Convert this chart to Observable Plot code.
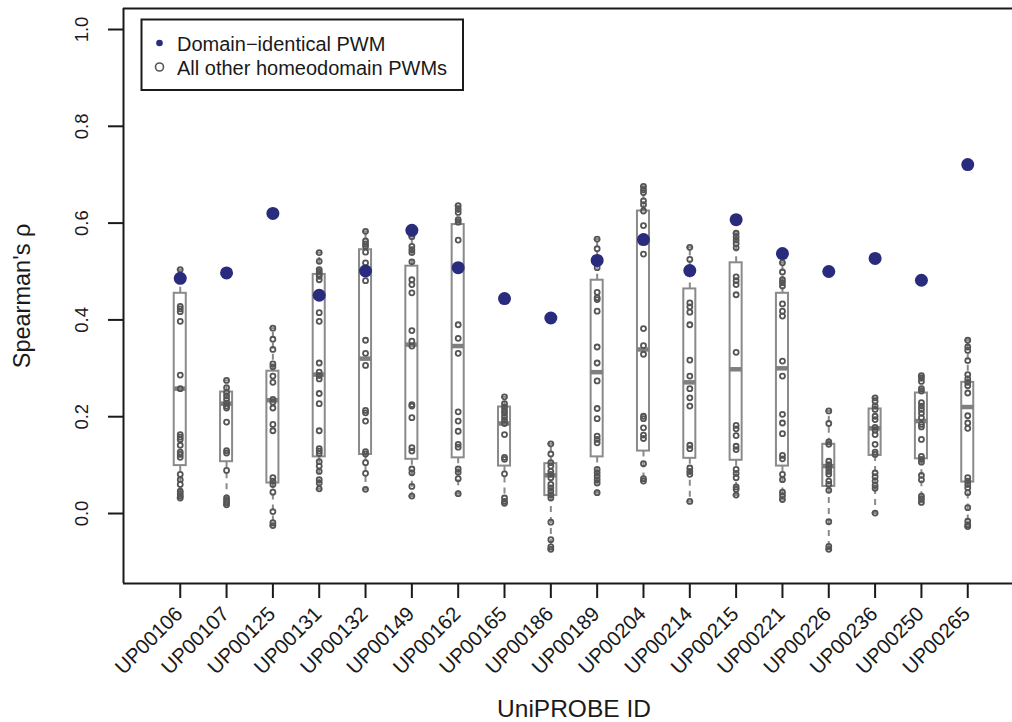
<!DOCTYPE html>
<html>
<head>
<meta charset="utf-8">
<script src="https://cdn.jsdelivr.net/npm/d3@7"></script>
<script src="https://cdn.jsdelivr.net/npm/@observablehq/plot@0.6"></script>
<style>
  html, body { margin: 0; padding: 0; background: #fff; }
  #chart { position: relative; width: 1012px; height: 722px; }
</style>
</head>
<body>
<div id="chart"></div>
<script>
// ---- data ----
const ids = ["UP00106","UP00107","UP00125","UP00131","UP00132","UP00149","UP00162","UP00165","UP00186",
             "UP00189","UP00204","UP00214","UP00215","UP00221","UP00226","UP00236","UP00250","UP00265"];

const domainIdentical = [0.486,0.497,0.620,0.451,0.501,0.585,0.508,0.444,0.404,
                         0.523,0.566,0.502,0.607,0.537,0.500,0.527,0.482,0.721];

const boxQ1  = [0.099,0.107,0.063,0.117,0.122,0.112,0.115,0.098,0.037,0.117,0.129,0.114,0.110,0.098,0.056,0.120,0.113,0.065];
const boxMed = [0.258,0.227,0.234,0.287,0.320,0.349,0.346,0.186,0.079,0.292,0.339,0.271,0.298,0.300,0.098,0.176,0.191,0.220];
const boxQ3  = [0.455,0.251,0.294,0.494,0.545,0.511,0.597,0.220,0.103,0.482,0.625,0.464,0.518,0.455,0.143,0.216,0.249,0.271];
const whiskLo = [0.032,0.018,-0.025,0.051,0.050,0.036,0.041,0.021,-0.074,0.043,0.067,0.025,0.038,0.029,-0.074,0.001,0.023,-0.027];
const whiskHi = [0.504,0.275,0.383,0.539,0.583,0.572,0.636,0.241,0.144,0.567,0.676,0.550,0.579,0.518,0.212,0.239,0.285,0.358];

const otherPWMs = [
  [0.504,0.428,0.423,0.417,0.397,0.286,0.258,0.163,0.158,0.153,0.141,0.127,0.122,0.116,0.081,0.070,0.060,0.046,0.041,0.036,0.032],
  [0.275,0.260,0.250,0.243,0.236,0.228,0.222,0.218,0.189,0.130,0.125,0.089,0.032,0.027,0.022,0.018],
  [0.383,0.360,0.339,0.309,0.303,0.284,0.271,0.236,0.230,0.218,0.184,0.171,0.074,0.067,0.060,0.044,0.004,-0.019,-0.025],
  [0.539,0.521,0.504,0.499,0.494,0.490,0.483,0.415,0.397,0.311,0.292,0.285,0.278,0.248,0.227,0.171,0.134,0.129,0.124,0.107,0.098,0.087,0.070,0.063,0.051],
  [0.583,0.563,0.557,0.552,0.540,0.518,0.481,0.358,0.331,0.306,0.213,0.208,0.191,0.128,0.123,0.105,0.083,0.050],
  [0.572,0.552,0.545,0.539,0.520,0.483,0.473,0.456,0.378,0.356,0.346,0.225,0.222,0.198,0.136,0.129,0.092,0.084,0.056,0.036],
  [0.636,0.629,0.622,0.607,0.602,0.565,0.390,0.362,0.331,0.210,0.191,0.170,0.143,0.137,0.092,0.085,0.072,0.041],
  [0.241,0.227,0.220,0.213,0.207,0.200,0.193,0.186,0.163,0.116,0.112,0.082,0.032,0.025,0.021],
  [0.144,0.123,0.105,0.098,0.087,0.081,0.074,0.060,0.053,0.046,0.039,0.032,-0.018,-0.054,-0.069,-0.074],
  [0.567,0.547,0.508,0.457,0.446,0.442,0.418,0.344,0.311,0.274,0.217,0.196,0.160,0.153,0.146,0.091,0.084,0.077,0.070,0.063,0.043],
  [0.676,0.669,0.663,0.646,0.638,0.625,0.595,0.536,0.382,0.347,0.329,0.201,0.196,0.177,0.162,0.155,0.103,0.072,0.067],
  [0.550,0.525,0.435,0.427,0.416,0.390,0.317,0.284,0.258,0.239,0.222,0.141,0.134,0.094,0.087,0.081,0.025],
  [0.579,0.572,0.565,0.558,0.549,0.489,0.481,0.473,0.452,0.333,0.182,0.175,0.161,0.139,0.132,0.091,0.083,0.074,0.055,0.050,0.038],
  [0.518,0.499,0.483,0.477,0.470,0.433,0.418,0.408,0.315,0.284,0.205,0.187,0.165,0.120,0.113,0.081,0.070,0.044,0.037,0.029],
  [0.212,0.186,0.148,0.143,0.108,0.101,0.094,0.087,0.081,0.067,0.060,0.048,-0.017,-0.068,-0.074],
  [0.239,0.232,0.222,0.215,0.201,0.194,0.178,0.172,0.163,0.143,0.127,0.122,0.084,0.076,0.067,0.058,0.052,0.001],
  [0.285,0.280,0.273,0.258,0.253,0.229,0.222,0.215,0.207,0.198,0.184,0.179,0.153,0.118,0.112,0.106,0.079,0.070,0.036,0.030,0.023],
  [0.358,0.344,0.337,0.316,0.287,0.278,0.271,0.264,0.249,0.202,0.187,0.176,0.074,0.067,0.060,0.053,0.043,0.012,-0.016,-0.023,-0.027]
];

const yTicks = [0.0, 0.2, 0.4, 0.6, 0.8, 1.0];
const legendLabels = ["Domain\u2212identical PWM", "All other homeodomain PWMs"];

// ---- tables built from the arrays ----
const boxes = ids.map((id, k) => ({i: k + 1, id, q1: boxQ1[k], med: boxMed[k], q3: boxQ3[k], lo: whiskLo[k], hi: whiskHi[k]}));
const points = ids.flatMap((id, k) => otherPWMs[k].map(v => ({i: k + 1, v})));
const identical = ids.map((id, k) => ({i: k + 1, v: domainIdentical[k]}));

const xDomain = [-0.225, 18.966];
const yDomain = [-0.1446, 1.0434];
const navy = "#292b7d";
const boxGray = "#8a8a8a";
const ptGray = "#555555";
const ink = "#1a1a1a";
const hw = 0.13;   // half box width (x units)
const sw = 0.065;  // half staple width
const font = "Liberation Sans, Arial, Helvetica, sans-serif";

const chart = Plot.plot({
  width: 1012,
  height: 722,
  marginLeft: 123,
  marginRight: 0,
  marginTop: 8,
  marginBottom: 139,
  style: {fontFamily: font, background: "#fff", overflow: "visible"},
  x: {type: "linear", domain: xDomain, label: null},
  y: {domain: yDomain, label: null},
  marks: [
    // whiskers
    Plot.ruleX(boxes, {x: "i", y1: "q3", y2: "hi", stroke: boxGray, strokeWidth: 2, strokeDasharray: "6,5"}),
    Plot.ruleX(boxes, {x: "i", y1: "q1", y2: "lo", stroke: boxGray, strokeWidth: 2, strokeDasharray: "6,5"}),
    Plot.ruleY(boxes, {y: "hi", x1: d => d.i - sw, x2: d => d.i + sw, stroke: boxGray, strokeWidth: 2}),
    Plot.ruleY(boxes, {y: "lo", x1: d => d.i - sw, x2: d => d.i + sw, stroke: boxGray, strokeWidth: 2}),
    // boxes
    Plot.rect(boxes, {x1: d => d.i - hw, x2: d => d.i + hw, y1: "q1", y2: "q3", fill: "#fff", stroke: boxGray, strokeWidth: 2}),
    Plot.ruleY(boxes, {y: "med", x1: d => d.i - hw, x2: d => d.i + hw, stroke: "#7f7f7f", strokeWidth: 4.5}),
    // all other PWMs
    Plot.dot(points, {x: "i", y: "v", r: 2.5, stroke: ptGray, strokeWidth: 1.8, fill: "none"}),
    // domain-identical PWM
    Plot.dot(identical, {x: "i", y: "v", r: 6.5, fill: navy, stroke: "none"}),
    // frame (left, top, bottom)
    Plot.ruleX([xDomain[0]], {stroke: ink, strokeWidth: 2}),
    Plot.ruleY([yDomain[0]], {stroke: ink, strokeWidth: 2}),
    Plot.ruleY([yDomain[1]], {stroke: ink, strokeWidth: 2}),
    // axes
    Plot.axisY({ticks: yTicks, tickSize: 15, tickFormat: () => "", stroke: ink, strokeWidth: 2, label: null}),
    Plot.axisX({ticks: d3.range(1, ids.length + 1), tickSize: 15, tickFormat: () => "", stroke: ink, strokeWidth: 2, label: null}),
    Plot.text(yTicks, {y: d => d, text: d => d.toFixed(1), frameAnchor: "left", dx: -41, rotate: -90,
      textAnchor: "middle", lineAnchor: "middle", fontSize: 18.5, fill: ink}),
    Plot.text(ids, {x: (d, k) => k + 1, text: d => d, frameAnchor: "bottom", dx: -1, dy: 27, rotate: -45,
      textAnchor: "end", lineAnchor: "middle", fontSize: 20.5, fill: ink}),
    // axis titles
    Plot.text(["UniPROBE ID"], {text: d => d, frameAnchor: "bottom", dx: 6, dy: 125.5, textAnchor: "middle",
      lineAnchor: "middle", fontSize: 24.5, fill: ink}),
    Plot.text(["Spearman's \u03C1"], {text: d => d, frameAnchor: "left", dx: -101, rotate: -90, textAnchor: "middle",
      lineAnchor: "middle", fontSize: 23.5, fill: ink})
  ]
});

document.getElementById("chart").appendChild(chart);

// legend (inside the plot area, top-left)
const svg = d3.select(chart);
const lg = svg.append("g").attr("font-family", font).attr("text-anchor", "start");
lg.append("rect").attr("x", 141.5).attr("y", 19.5).attr("width", 321.5).attr("height", 70.5)
  .attr("fill", "#fff").attr("stroke", ink).attr("stroke-width", 2);
lg.append("circle").attr("cx", 159.5).attr("cy", 43).attr("r", 3.3).attr("fill", navy);
lg.append("circle").attr("cx", 159.5).attr("cy", 67).attr("r", 4).attr("fill", "none").attr("stroke", ptGray).attr("stroke-width", 1.6);
lg.append("text").attr("x", 177).attr("y", 43.5).attr("dy", "0.35em").attr("font-size", 20).attr("fill", ink).text(legendLabels[0]);
lg.append("text").attr("x", 177).attr("y", 67.5).attr("dy", "0.35em").attr("font-size", 20).attr("fill", ink).text(legendLabels[1]);
</script>
</body>
</html>
